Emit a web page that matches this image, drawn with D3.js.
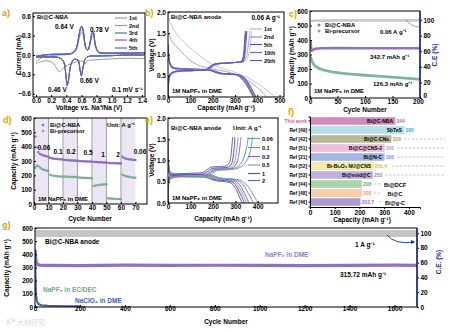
<!DOCTYPE html>
<html>
<head>
<meta charset="utf-8">
<script src="https://cdn.jsdelivr.net/npm/d3@7/dist/d3.min.js"></script>
<style>
  body { margin: 0; background: #fff; }
  svg text { font-family: "Liberation Sans", Arial, sans-serif; }
</style>
</head>
<body>
<script>
// ---------- a) CV curves (V, mA) ----------
var cvNames = ["1st", "2nd", "3rd", "4th", "5th"];
var cv1 = [[0,-0.1],[0.1,-0.03],[0.2,-0.01],[0.3,0.0],[0.4,0.005],[0.48,0.02],[0.53,0.07],[0.56,0.2],[0.59,0.34],[0.605,0.36],[0.625,0.3],[0.655,0.1],[0.685,0.07],[0.715,0.17],[0.74,0.29],[0.755,0.3],[0.785,0.12],[0.83,0.03],[0.9,0.02],[1.1,0.02],[1.3,0.02],[1.44,0.02],[1.44,-0.04],[1.2,-0.05],[1.0,-0.06],[0.85,-0.07],[0.72,-0.08],[0.67,-0.09],[0.65,-0.14],[0.635,-0.15],[0.62,-0.1],[0.58,-0.09],[0.52,-0.11],[0.45,-0.14],[0.38,-0.18],[0.33,-0.24],[0.3,-0.26],[0.27,-0.2],[0.22,-0.12],[0.15,-0.09],[0.08,-0.1],[0,-0.13]];
var cv2 = [[0,-0.02],[0.1,0.0],[0.2,0.01],[0.3,0.012],[0.4,0.015],[0.48,0.03],[0.53,0.1],[0.56,0.25],[0.59,0.42],[0.605,0.44],[0.625,0.36],[0.655,0.13],[0.685,0.08],[0.715,0.2],[0.74,0.34],[0.755,0.35],[0.785,0.15],[0.83,0.04],[0.9,0.03],[1.1,0.03],[1.3,0.03],[1.44,0.03],[1.44,0.01],[1.2,0.0],[1.0,-0.01],[0.8,-0.015],[0.7,-0.02],[0.65,-0.06],[0.62,-0.2],[0.6,-0.31],[0.585,-0.25],[0.555,-0.08],[0.5,-0.07],[0.46,-0.15],[0.43,-0.38],[0.412,-0.46],[0.395,-0.3],[0.365,-0.1],[0.3,-0.04],[0.2,-0.03],[0.1,-0.03],[0,-0.03]];
var cv3 = [[0,-0.02],[0.1,0.0],[0.2,0.01],[0.3,0.012],[0.4,0.016],[0.48,0.03],[0.53,0.1],[0.56,0.26],[0.59,0.43],[0.605,0.45],[0.625,0.37],[0.655,0.13],[0.685,0.08],[0.715,0.21],[0.74,0.35],[0.755,0.36],[0.785,0.15],[0.83,0.04],[0.9,0.03],[1.1,0.03],[1.3,0.03],[1.44,0.03],[1.44,0.01],[1.2,0.0],[1.0,-0.01],[0.8,-0.015],[0.7,-0.02],[0.65,-0.06],[0.62,-0.21],[0.6,-0.33],[0.585,-0.26],[0.555,-0.08],[0.5,-0.07],[0.46,-0.15],[0.43,-0.39],[0.412,-0.47],[0.395,-0.31],[0.365,-0.1],[0.3,-0.04],[0.2,-0.03],[0.1,-0.03],[0,-0.03]];
var cv4 = [[0,-0.02],[0.1,0.0],[0.2,0.01],[0.3,0.012],[0.4,0.015],[0.48,0.03],[0.53,0.1],[0.56,0.25],[0.59,0.42],[0.607,0.44],[0.627,0.36],[0.657,0.13],[0.687,0.08],[0.717,0.2],[0.742,0.34],[0.757,0.35],[0.787,0.15],[0.83,0.04],[0.9,0.03],[1.1,0.03],[1.3,0.03],[1.44,0.03],[1.44,0.01],[1.2,0.0],[1.0,-0.01],[0.8,-0.015],[0.7,-0.02],[0.65,-0.06],[0.62,-0.2],[0.598,-0.32],[0.583,-0.25],[0.553,-0.08],[0.5,-0.07],[0.46,-0.15],[0.43,-0.39],[0.41,-0.48],[0.393,-0.31],[0.363,-0.1],[0.3,-0.04],[0.2,-0.03],[0.1,-0.03],[0,-0.03]];
var cv5 = [[0,-0.02],[0.1,0.0],[0.2,0.01],[0.3,0.012],[0.4,0.015],[0.48,0.03],[0.53,0.1],[0.56,0.24],[0.59,0.41],[0.607,0.43],[0.627,0.35],[0.657,0.12],[0.687,0.08],[0.717,0.2],[0.742,0.33],[0.757,0.34],[0.787,0.14],[0.83,0.04],[0.9,0.03],[1.1,0.03],[1.3,0.03],[1.44,0.03],[1.44,0.01],[1.2,0.0],[1.0,-0.01],[0.8,-0.015],[0.7,-0.02],[0.65,-0.06],[0.62,-0.19],[0.598,-0.3],[0.583,-0.24],[0.553,-0.08],[0.5,-0.07],[0.46,-0.15],[0.43,-0.37],[0.41,-0.45],[0.393,-0.3],[0.363,-0.1],[0.3,-0.04],[0.2,-0.03],[0.1,-0.03],[0,-0.03]];
var cvCurves = [cv1, cv2, cv3, cv4, cv5];
var cvColors = ["#7fa898", "#a78bd0", "#3e6ea8", "#8c5cc0", "#5a64a8"];
var cvPeaks = ["0.64 V", "0.78 V", "0.66 V", "0.46 V"];

// ---------- b) galvanostatic profiles (mAh/g, V) ----------
var bNames = ["1st", "2nd", "5th", "10th", "20th"];
var b1Dis = [[0,2.0],[10,1.75],[30,1.55],[60,1.35],[100,1.15],[135,1.0],[170,0.86],[210,0.74],[250,0.66],[290,0.6],[330,0.52],[370,0.42],[410,0.29],[445,0.15],[470,0.05],[478,0]];
var b2Dis = [[0,1.5],[20,1.3],[50,1.12],[80,0.95],[110,0.82],[150,0.72],[200,0.66],[240,0.62],[280,0.57],[320,0.5],[360,0.38],[400,0.22],[430,0.08],[440,0]];
var b5Dis = [[0,1.25],[3,1.0],[8,0.82],[20,0.7],[60,0.67],[120,0.655],[190,0.64],[215,0.6],[240,0.56],[280,0.545],[320,0.52],[340,0.46],[360,0.33],[378,0.16],[390,0.04],[394,0]];
var b10Dis = [[0,1.2],[3,0.95],[8,0.8],[20,0.69],[60,0.665],[120,0.65],[188,0.635],[212,0.595],[236,0.555],[276,0.54],[316,0.515],[335,0.45],[355,0.32],[372,0.15],[384,0.04],[388,0]];
var b20Dis = [[0,1.18],[3,0.93],[8,0.78],[20,0.68],[60,0.66],[120,0.645],[185,0.63],[208,0.59],[232,0.55],[272,0.535],[312,0.51],[330,0.44],[350,0.31],[367,0.15],[379,0.04],[383,0]];
var b1Chg = [[0,0],[3,0.35],[10,0.52],[40,0.6],[120,0.63],[190,0.66],[210,0.74],[240,0.79],[300,0.815],[345,0.84],[358,0.93],[366,1.15],[372,1.4],[376,1.55]];
var b2Chg = [[0,0],[3,0.33],[10,0.5],[40,0.59],[120,0.625],[185,0.655],[205,0.73],[235,0.785],[295,0.81],[338,0.835],[350,0.93],[358,1.15],[364,1.4],[368,1.55]];
var b5Chg = [[0,0],[2,0.3],[8,0.52],[30,0.6],[100,0.62],[175,0.645],[192,0.71],[210,0.77],[250,0.795],[300,0.81],[335,0.84],[343,0.95],[348,1.2],[352,1.45],[354,1.55]];
var b10Chg = [[0,0],[2,0.3],[8,0.52],[30,0.6],[100,0.62],[173,0.645],[190,0.71],[208,0.77],[248,0.795],[298,0.81],[332,0.84],[340,0.95],[345,1.2],[348,1.45],[350,1.55]];
var b20Chg = [[0,0],[2,0.3],[8,0.52],[30,0.6],[100,0.62],[171,0.645],[188,0.71],[206,0.77],[246,0.795],[296,0.81],[329,0.84],[337,0.95],[342,1.2],[345,1.45],[347,1.55]];
var bDis = [b1Dis, b2Dis, b5Dis, b10Dis, b20Dis];
var bChg = [b1Chg, b2Chg, b5Chg, b10Chg, b20Chg];
var bColors = ["#c2acdc", "#9e86cc", "#4b5d9a", "#8265bb", "#5b5cb0"];

// ---------- c) cycling at 0.06 A/g (cycle, mAh/g) ----------
var cNbaCap = [[1,400],[2,335],[3,325],[5,332],[10,340],[20,343],[50,344],[100,343],[150,343],[200,342.7]];
var cPreCap = [[1,285],[3,255],[8,225],[15,206],[25,193],[40,180],[60,170],[80,163],[100,157],[130,149],[160,141],[185,134],[200,128]];
var cCE = [[1,99],[50,99.5],[100,99.5],[150,99.5],[200,99.5]];

// ---------- d) rate capability (per cycle, mAh/g) ----------
var dRates = ["0.06", "0.1", "0.2", "0.5", "1", "2", "0.06"];
var dNba = [470,395,362,350,345,340,338,335,332,330,
            322,320,318,316,315,314,313,312,311,310,
            308,307,306,305,305,304,303,303,302,302,
            300,299,299,298,298,297,297,296,296,295,
            294,293,293,292,292,291,291,290,290,290,
            287,286,286,285,285,284,284,284,283,283,
            330,322,318,315,313,311,310,309,308,307];
var dPre = [255,268,265,255,248,242,238,235,232,230,
            205,200,198,196,195,194,193,192,192,191,
            192,191,190,190,189,189,188,188,188,187,
            185,184,183,183,182,182,181,181,180,180,
            125,128,130,132,133,134,135,136,137,138,
            40,38,38,37,37,36,36,36,35,35,
            205,200,195,192,190,188,186,185,184,183];

// ---------- e) rate profiles (mAh/g, V) ----------
var eNames = ["0.06", "0.1", "0.2", "0.5", "1", "2"];
var eDis006 = [[0,1.55],[2,1.1],[5,0.85],[12,0.72],[60,0.69],[130,0.68],[195,0.66],[215,0.62],[240,0.585],[290,0.565],[320,0.54],[345,0.46],[365,0.32],[385,0.15],[398,0.03],[402,0]];
var eDis01 = [[0,1.5],[2,1.05],[5,0.82],[12,0.71],[60,0.68],[130,0.67],[190,0.65],[210,0.61],[235,0.575],[285,0.555],[310,0.53],[332,0.45],[350,0.3],[367,0.14],[378,0.03],[381,0]];
var eDis02 = [[0,1.2],[2,0.95],[5,0.78],[12,0.69],[60,0.665],[130,0.655],[185,0.64],[205,0.6],[228,0.565],[275,0.545],[300,0.52],[318,0.44],[334,0.3],[349,0.14],[358,0.03],[361,0]];
var eDis05 = [[0,1.15],[2,0.92],[5,0.76],[12,0.68],[60,0.655],[130,0.645],[180,0.63],[200,0.59],[222,0.555],[268,0.535],[292,0.51],[310,0.43],[325,0.29],[340,0.13],[348,0.03],[351,0]];
var eDis1 = [[0,1.1],[2,0.88],[5,0.73],[12,0.66],[60,0.64],[130,0.63],[175,0.615],[195,0.575],[215,0.54],[262,0.52],[285,0.495],[302,0.42],[316,0.28],[330,0.13],[338,0.03],[341,0]];
var eDis2 = [[0,1.05],[2,0.85],[5,0.7],[12,0.64],[60,0.62],[130,0.61],[170,0.6],[190,0.56],[210,0.525],[255,0.5],[278,0.475],[294,0.4],[308,0.27],[320,0.12],[328,0.03],[331,0]];
var eChg006 = [[0,0],[2,0.35],[8,0.55],[30,0.6],[100,0.62],[180,0.64],[198,0.7],[215,0.76],[260,0.78],[300,0.8],[325,0.85],[345,0.95],[360,1.1],[370,1.3],[376,1.55]];
var eChg01 = [[0,0],[2,0.37],[8,0.56],[30,0.61],[100,0.63],[175,0.65],[193,0.71],[210,0.77],[255,0.79],[290,0.81],[312,0.86],[330,0.97],[343,1.15],[352,1.35],[357,1.55]];
var eChg02 = [[0,0],[2,0.4],[8,0.58],[30,0.62],[100,0.64],[170,0.66],[188,0.72],[205,0.78],[250,0.8],[285,0.82],[300,0.88],[310,1.0],[317,1.2],[322,1.4],[325,1.55]];
var eChg05 = [[0,0],[2,0.42],[8,0.6],[30,0.63],[100,0.65],[165,0.67],[183,0.73],[200,0.79],[245,0.81],[278,0.83],[292,0.9],[300,1.05],[306,1.25],[310,1.45],[312,1.55]];
var eChg1 = [[0,0],[2,0.45],[8,0.62],[30,0.65],[100,0.67],[160,0.69],[178,0.75],[195,0.81],[240,0.83],[270,0.85],[283,0.92],[290,1.08],[295,1.3],[298,1.55]];
var eChg2 = [[0,0],[2,0.48],[8,0.65],[30,0.68],[100,0.7],[155,0.72],[173,0.78],[190,0.84],[235,0.86],[262,0.88],[274,0.95],[280,1.1],[285,1.35],[288,1.55]];
var eDis = [eDis006, eDis01, eDis02, eDis05, eDis1, eDis2];
var eChg = [eChg006, eChg01, eChg02, eChg05, eChg1, eChg2];
var eColors = ["#6aa792", "#5f9c96", "#8a68c0", "#a58bd3", "#4b5ea6", "#6a66b4"];

// ---------- f) comparison ----------
var fRefs = ["This work", "Ref [49]", "Ref [42]", "Ref [51]", "Ref [21]", "Ref [52]", "Ref [53]", "Ref [44]", "Ref [48]", "Ref [46]"];
var fValues = [344, 380, 328, 300, 300, 255.4, 253, 208, 208, 202.7];
var fLabels = ["344", "380", "328", "300", "300", "255.4", "253", "208", "208", "202.7"];
var fMaterials = ["Bi@C-NBA", "SbTeS", "Bi@C-CNs", "Bi@C@CNS-2", "Bi@N-C", "Bi-Bi\u2082O\u2083 NU@CNS", "Bi@void@C", "Bi@DCF", "Bi@C", "Bi@g-C"];
var fFill = ["#d08abf", "#b5e0ea", "#b8b898", "#ecc0de", "#a3b6e4", "#f5eda8", "#c0b0de", "#a8d6a8", "#fbcfa6", "#ab9bd0"];
var fText = ["#c070b0", "#3fa8d0", "#a0a070", "#d090c0", "#7a90d0", "#d0c050", "#9a80c8", "#70b070", "#e8a070", "#8a78c0"];

// ---------- g) long cycling at 1 A/g ----------
var gNba = [[1,430],[2,400],[3,370],[5,345],[8,330],[12,322],[20,318],[60,316],[200,314],[400,318],[600,316],[800,317],[1000,316],[1200,315],[1400,316],[1600,318],[1700,315.7]];
var gEcDec = [[1,235],[2,200],[3,150],[5,90],[8,50],[12,30],[20,20],[30,15],[55,12]];
var gClO4 = [[1,440],[2,300],[3,180],[5,90],[8,45],[15,22],[30,13],[60,9],[100,8],[150,7],[200,6]];
var gCE = [[1,99.5],[400,99.5],[800,99.5],[1200,99.5],[1700,99.5]];
var gCEstart = [[1,62],[2,85],[3,93]];

var FS = 6.5;
var svg = d3.select("body").append("svg").attr("width", 450).attr("height", 332);

function txt(x, y, s, opt) {
  opt = opt || {};
  var t = svg.append("text").attr("x", x).attr("y", y)
      .attr("font-size", opt.size || FS).attr("font-weight", opt.weight || "bold")
      .attr("fill", opt.color || "#000").attr("text-anchor", opt.anchor || "start");
  if (opt.rotate) t.attr("transform", "rotate(-90," + x + "," + y + ")");
  t.text(s);
  return t;
}
function panelLabel(x, y, s) {
  txt(x, y, s, {size: 9, color: "#d9a400"});
}
function clip(id, x, y) {
  svg.append("clipPath").attr("id", id).append("rect")
      .attr("x", x.range()[0]).attr("y", y.range()[1])
      .attr("width", x.range()[1] - x.range()[0]).attr("height", y.range()[0] - y.range()[1]);
}
function frame(x, y) {
  svg.append("rect").attr("x", x.range()[0]).attr("y", y.range()[1])
      .attr("width", x.range()[1] - x.range()[0]).attr("height", y.range()[0] - y.range()[1])
      .attr("fill", "none").attr("stroke", "#000").attr("stroke-width", 1);
}
function styleAxis(g, col) {
  g.select(".domain").remove();
  g.selectAll("line").attr("stroke", col || "#000");
  g.selectAll("text").attr("font-size", FS).attr("font-weight", "bold").attr("fill", col || "#000");
}
function bottomAxis(x, ypos, ticks, fmt) {
  var g = svg.append("g").attr("transform", "translate(0," + ypos + ")")
      .call(d3.axisBottom(x).tickValues(ticks).tickFormat(fmt).tickSizeInner(-2).tickSizeOuter(0).tickPadding(1.2));
  styleAxis(g);
  return g;
}
function leftAxis(y, xpos, ticks, fmt) {
  var g = svg.append("g").attr("transform", "translate(" + xpos + ",0)")
      .call(d3.axisLeft(y).tickValues(ticks).tickFormat(fmt).tickSizeInner(-2).tickSizeOuter(0).tickPadding(2));
  styleAxis(g);
  return g;
}
function rightAxis(y, xpos, ticks, fmt, col) {
  var g = svg.append("g").attr("transform", "translate(" + xpos + ",0)")
      .call(d3.axisRight(y).tickValues(ticks).tickFormat(fmt).tickSizeInner(2).tickSizeOuter(0).tickPadding(1.5));
  styleAxis(g, "#000");
  g.selectAll("line").attr("stroke", col).attr("stroke-width", 1.2);
  svg.append("line").attr("x1", xpos).attr("x2", xpos).attr("y1", y.range()[0]).attr("y2", y.range()[1])
      .attr("stroke", col).attr("stroke-width", 1.4);
  return g;
}
function curve(x, y, data, col, w, clipId, smooth) {
  var line = d3.line().x(function(d) { return x(d[0]); }).y(function(d) { return y(d[1]); });
  if (smooth) line.curve(d3.curveCatmullRom.alpha(0.5));
  svg.append("path").datum(data).attr("clip-path", "url(#" + clipId + ")")
      .attr("fill", "none").attr("stroke", col).attr("stroke-width", w)
      .attr("stroke-linejoin", "round").attr("d", line);
}
function legendLine(x, y, col, s) {
  svg.append("line").attr("x1", x).attr("x2", x + 12).attr("y1", y).attr("y2", y)
      .attr("stroke", col).attr("stroke-width", 1.2);
  txt(x + 14, y + 2, s, {size: 5.5});
}

// ================= a) =================
var xA = d3.scaleLinear().domain([-0.04, 1.44]).range([33, 145]);
var yA = d3.scaleLinear().domain([-0.65, 0.65]).range([97, 13]);
clip("clipA", xA, yA);
cvCurves.forEach(function(c, i) { curve(xA, yA, c, cvColors[i], 1, "clipA", true); });
frame(xA, yA);
bottomAxis(xA, 97, [0, 0.2, 0.4, 0.6, 0.8, 1.0, 1.2, 1.4], d3.format(".1f"));
leftAxis(yA, 33, [-0.6, -0.3, 0, 0.3, 0.6], d3.format(".1f"));
txt(21, 55, "Current (mA)", {anchor: "middle", rotate: true});
txt(89, 110, "Voltage vs. Na\u207a/Na (V)", {anchor: "middle"});
txt(37, 19, "Bi@C-NBA", {size: 6});
txt(55, 29, cvPeaks[0]);
txt(90, 32, cvPeaks[1]);
txt(80, 83, cvPeaks[2]);
txt(48, 92, cvPeaks[3]);
txt(112, 92, "0.1 mV s\u207b\u00b9");
cvNames.forEach(function(n, i) { legendLine(115, [18, 25.5, 33, 40, 48][i], cvColors[i], n); });
panelLabel(2, 16, "a)");

// ================= b) =================
var xB = d3.scaleLinear().domain([0, 520]).range([168, 284]);
var yB = d3.scaleLinear().domain([0, 2]).range([97, 12]);
clip("clipB", xB, yB);
bDis.forEach(function(c, i) { curve(xB, yB, c, bColors[i], i < 2 ? 0.8 : 1.1, "clipB", true); });
bChg.forEach(function(c, i) { curve(xB, yB, c, bColors[i], i < 2 ? 0.8 : 1.1, "clipB", true); });
frame(xB, yB);
bottomAxis(xB, 97, [0, 100, 200, 300, 400, 500], d3.format("d"));
leftAxis(yB, 168, [0, 0.5, 1.0, 1.5, 2.0], d3.format(".1f"));
txt(154, 55, "Voltage (V)", {anchor: "middle", rotate: true});
txt(226, 110, "Capacity (mAh g\u207b\u00b9)", {anchor: "middle"});
txt(171, 19, "Bi@C-NBA anode", {size: 6});
txt(280, 20, "0.06 A g\u207b\u00b9", {anchor: "end"});
txt(172, 93, "1M NaPF\u2086 in DME", {size: 6});
bNames.forEach(function(n, i) { legendLine(250, [29, 37, 44.5, 52.5, 60.5][i], bColors[i], n); });
panelLabel(145, 16, "b)");

// ================= c) =================
var xC = d3.scaleLinear().domain([0, 200]).range([310, 420]);
var yC = d3.scaleLinear().domain([0, 600]).range([98, 11]);
var yC2 = d3.scaleLinear().domain([0, 111.5]).range([98, 11]);
clip("clipC", xC, yC);
curve(xC, yC2, cCE, "#c9c9c9", 2.6, "clipC");
curve(xC, yC, cNbaCap, "#9270c0", 2.6, "clipC");
curve(xC, yC, cPreCap, "#80b49b", 2.8, "clipC");
svg.append("path").attr("d", "M406,20 Q412,27 419,27").attr("fill", "none")
    .attr("stroke", "#8a7ab8").attr("stroke-width", 0.8);
frame(xC, yC);
var cx = bottomAxis(xC, 98, [0, 50, 100, 150, 200], d3.format("d"));
cx.selectAll("text").attr("dx", function(d) { return d === 200 ? -2 : 0; });
var cr = rightAxis(yC2, 420, [0, 20, 40, 60, 80, 100], d3.format("d"), "#1c2a8c");
cr.selectAll("text").attr("dy", function(d) { return d === 0 ? "-0.05em" : "0.32em"; });
leftAxis(yC, 310, [0, 100, 200, 300, 400, 500, 600], d3.format("d"));
txt(294, 55, "Capacity (mAh g\u207b\u00b9)", {anchor: "middle", rotate: true});
txt(437, 55, "C.E (%)", {anchor: "middle", rotate: true, color: "#1c2a8c"});
txt(365, 111.5, "Cycle Number", {anchor: "middle"});
svg.append("circle").attr("cx", 319).attr("cy", 25).attr("r", 1.5).attr("fill", "#9270c0");
svg.append("circle").attr("cx", 319).attr("cy", 31).attr("r", 1.5).attr("fill", "#80b49b");
txt(325, 27, "Bi@C-NBA", {size: 5.8});
txt(325, 33, "Bi-precursor", {size: 5.8});
txt(380, 34, "0.06 A g\u207b\u00b9", {size: 6});
txt(370, 59, "342.7 mAh g\u207b\u00b9", {size: 6});
txt(373, 86, "126.3 mAh g\u207b\u00b9", {size: 6});
txt(314, 93, "1M NaPF\u2086 in DME", {size: 6});
panelLabel(289, 17, "c)");

// ================= d) =================
var xD = d3.scaleLinear().domain([0, 78]).range([34, 147]);
var yD = d3.scaleLinear().domain([0, 600]).range([204, 118]);
clip("clipD", xD, yD);
[0, 20, 40, 60].forEach(function(s) {
  svg.append("rect").attr("clip-path", "url(#clipD)").attr("x", xD(s)).attr("y", 118)
      .attr("width", xD(s + 10) - xD(s)).attr("height", 86).attr("fill", "#ece6f4");
});
[10, 20, 30, 40, 50, 60].forEach(function(s) {
  svg.append("line").attr("x1", xD(s)).attr("x2", xD(s)).attr("y1", 118).attr("y2", 204)
      .attr("stroke", "#8a8a8a").attr("stroke-width", 0.8);
});
svg.append("g").selectAll("circle").data(dNba).join("circle")
    .attr("cx", function(d, i) { return xD(i + 1); }).attr("cy", function(d) { return yD(d); })
    .attr("r", 1.2).attr("fill", "#8e70c0");
svg.append("g").selectAll("circle").data(dPre).join("circle")
    .attr("cx", function(d, i) { return xD(i + 1); }).attr("cy", function(d) { return yD(d); })
    .attr("r", 1.2).attr("fill", "#7fae98");
frame(xD, yD);
bottomAxis(xD, 204, [0, 10, 20, 30, 40, 50, 60, 70], d3.format("d"));
leftAxis(yD, 34, [0, 100, 200, 300, 400, 500, 600], d3.format("d"));
txt(16, 161, "Capacity (mAh g\u207b\u00b9)", {anchor: "middle", rotate: true});
txt(90, 221, "Cycle Number", {anchor: "middle"});
var dLabX = [44, 58, 71, 88, 103, 118, 140], dLabY = [150, 154, 154, 155, 157, 157, 154];
dRates.forEach(function(r, i) { txt(dLabX[i], dLabY[i], r, {anchor: "middle"}); });
svg.append("circle").attr("cx", 43).attr("cy", 125).attr("r", 1.3).attr("fill", "#8e70c0");
svg.append("circle").attr("cx", 43).attr("cy", 131).attr("r", 1.3).attr("fill", "#7fae98");
txt(50, 127, "Bi@C-NBA", {size: 5.8});
txt(50, 133, "Bi-precursor", {size: 5.8});
txt(107, 127, "Unit: A g\u207b\u00b9", {size: 5.8});
txt(38, 201, "1M NaPF\u2086 in DME", {size: 6});
panelLabel(3, 123, "d)");

// ================= e) =================
var xE = d3.scaleLinear().domain([0, 490]).range([168, 278]);
var yE = d3.scaleLinear().domain([0, 2]).range([203, 118]);
clip("clipE", xE, yE);
eDis.forEach(function(c, i) { curve(xE, yE, c, eColors[i], 1, "clipE", true); });
eChg.forEach(function(c, i) { curve(xE, yE, c, eColors[i], 1, "clipE", true); });
frame(xE, yE);
bottomAxis(xE, 203, [0, 100, 200, 300, 400], d3.format("d"));
leftAxis(yE, 168, [0, 0.5, 1.0, 1.5, 2.0], d3.format(".1f"));
txt(154, 160, "Voltage (V)", {anchor: "middle", rotate: true});
txt(223, 221, "Capacity (mAh g\u207b\u00b9)", {anchor: "middle"});
txt(171, 130, "Bi@C-NBA anode", {size: 6});
txt(233, 130, "Unit: A g\u207b\u00b9", {size: 6});
txt(172, 200, "1M NaPF\u2086 in DME", {size: 6});
eNames.forEach(function(n, i) { legendLine(248, [138.5, 147.5, 156.5, 165, 173.5, 180.5][i], eColors[i], n); });
panelLabel(145, 123, "e)");

// ================= f) =================
var xF = d3.scaleLinear().domain([0, 445]).range([310, 420]);
var yF = d3.scaleBand().domain(fRefs).range([116.5, 206.5]).paddingInner(0.25).paddingOuter(0.12);
fRefs.forEach(function(r, i) {
  var y0 = yF(r), bw = yF.bandwidth(), cy = y0 + bw / 2;
  svg.append("rect").attr("x", xF(0)).attr("y", y0).attr("width", xF(fValues[i]) - xF(0)).attr("height", bw)
      .attr("fill", fFill[i]).attr("stroke", d3.color(fFill[i]).darker(0.3)).attr("stroke-width", 0.5);
  var lw = fLabels[i].length * 3.2;
  txt(xF(fValues[i]) + 1.5, cy + 2, fLabels[i], {size: 5, color: fText[i]});
  if (i >= 2) {
    var xe = i >= 7 ? 381 : 445;
    svg.append("line").attr("x1", xF(fValues[i]) + 3 + lw).attr("x2", xe).attr("y1", cy).attr("y2", cy)
        .attr("stroke", "#b5b5b5").attr("stroke-width", 0.8).attr("stroke-dasharray", "2.5,1.5");
  }
  if (i < 7) {
    txt(xF(fValues[i]) - 2, cy + 2, fMaterials[i], {size: 5, anchor: "end"});
  } else {
    txt(395, cy + 2.5, fMaterials[i], {size: 5.5, anchor: "middle"});
  }
});
var gfy = svg.append("g").attr("transform", "translate(310,0)")
    .call(d3.axisLeft(yF).tickSize(1.5).tickPadding(1.5));
gfy.select(".domain").attr("stroke", "#000");
gfy.selectAll("text").attr("font-size", 4.8).attr("font-weight", "bold")
    .attr("fill", function(d, i) { return i === 0 ? "#c060a8" : "#000"; });
var gfx = svg.append("g").attr("transform", "translate(0,207)")
    .call(d3.axisBottom(xF).tickValues([0, 100, 200, 300, 400]).tickFormat(d3.format("d")).tickSize(2).tickPadding(1));
gfx.select(".domain").attr("stroke", "#000");
gfx.selectAll("text").attr("font-size", FS).attr("font-weight", "bold").attr("fill", "#000");
txt(362, 222, "Capacity (mAh g\u207b\u00b9)", {anchor: "middle"});
panelLabel(288, 115, "f)");

// ================= g) =================
var xG = d3.scaleLinear().domain([0, 1700]).range([35, 417]);
var yG = d3.scaleLinear().domain([0, 600]).range([307, 228]);
var yG2 = d3.scaleLinear().domain([0, 106.8]).range([307, 228]);
clip("clipG", xG, yG);
curve(xG, yG2, gCE, "#c4c4c4", 7, "clipG");
svg.append("g").selectAll("circle").data(gCEstart).join("circle")
    .attr("cx", function(d) { return xG(d[0]); }).attr("cy", function(d) { return yG2(d[1]); })
    .attr("r", 1.2).attr("fill", "#d0d0d0");
curve(xG, yG, gNba, "#9270c0", 3.2, "clipG");
curve(xG, yG, gEcDec, "#6aaa8e", 1.8, "clipG");
curve(xG, yG, gClO4, "#4a5aa6", 1.8, "clipG");
svg.append("path").attr("d", "M387,235 Q395,245 414,242").attr("fill", "none")
    .attr("stroke", "#1c2a8c").attr("stroke-width", 0.9);
svg.append("path").attr("d", "M411,240 L415,242 L411,244 Z").attr("fill", "#1c2a8c");
frame(xG, yG);
var gxAxis = bottomAxis(xG, 307, [0, 200, 400, 600, 800, 1000, 1200, 1400, 1600], d3.format("d"));
gxAxis.selectAll("text").attr("dy", "0.5em");
leftAxis(yG, 35, [0, 100, 200, 300, 400, 500, 600], d3.format("d"));
rightAxis(yG2, 417, [0, 20, 40, 60, 80, 100], d3.format("d"), "#1c2a8c");
txt(9, 268, "Capacity (mAh g\u207b\u00b9)", {anchor: "middle", rotate: true});
txt(441, 262, "C.E. (%)", {anchor: "middle", rotate: true, color: "#1c2a8c"});
txt(226, 324, "Cycle Number", {anchor: "middle"});
txt(45, 244, "Bi@C-NBA anode", {size: 6.5});
txt(43, 292, "NaPF\u2086 in EC/DEC", {color: "#6aaa8e"});
txt(75, 303, "NaClO\u2084 in DME", {color: "#4a5aa6"});
txt(265, 257, "NaPF\u2086 in DME", {color: "#9a7cc8"});
txt(355, 247, "1 A g\u207b\u00b9");
txt(340, 277, "315.72 mAh g\u207b\u00b9");
panelLabel(2, 228, "g)");

// faint watermark
txt(6, 325, "K\u00b2\u2070 \u5927\u6750\u7814\u7a76", {size: 7, color: "#d8d8d8", weight: "normal"})
    .style("font-family", '"Noto Sans CJK SC", sans-serif');
</script>
</body>
</html>
